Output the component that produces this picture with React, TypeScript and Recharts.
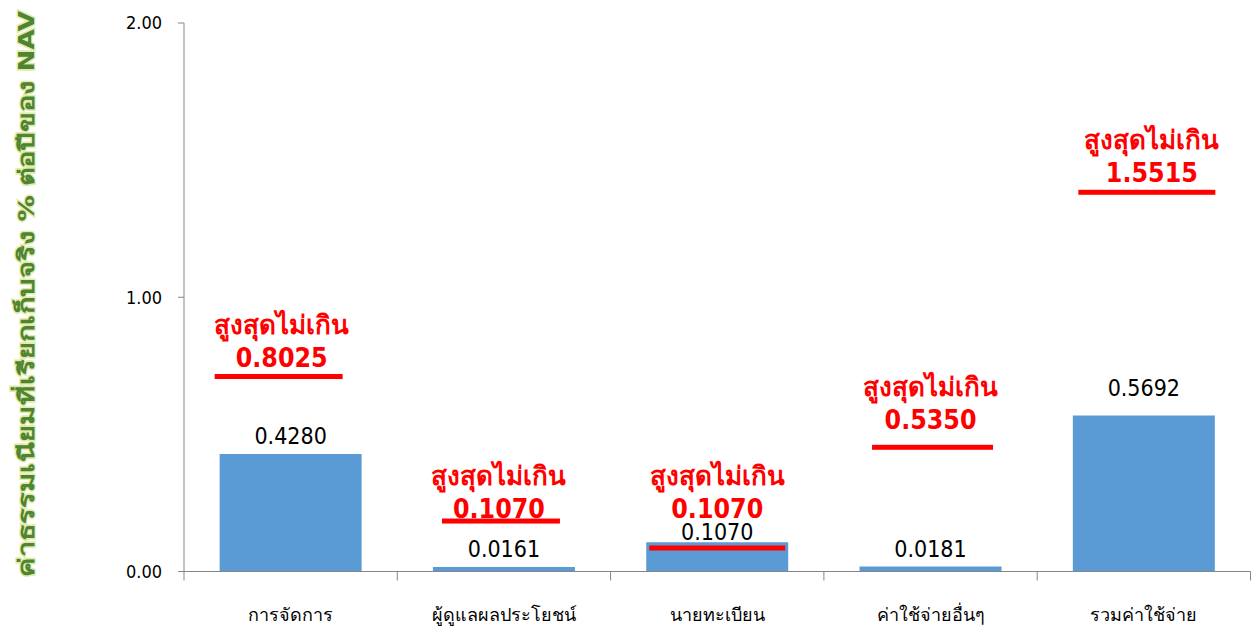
import React from 'react';
import { ComposedChart, Bar, XAxis, YAxis, Scatter, LabelList } from 'recharts';

const categories = ['การจัดการ', 'ผู้ดูแลผลประโยชน์', 'นายทะเบียน', 'ค่าใช้จ่ายอื่นๆ', 'รวมค่าใช้จ่าย'];
const actualFees = [0.428, 0.0161, 0.107, 0.0181, 0.5692];
const maxFees = [0.8025, 0.107, 0.107, 0.535, 1.5515];
const limitLineAt = [0.711, 0.184, 0.0857, 0.4529, 1.3827];
const limitLabelAt = [0.782, 0.2315, 0.2315, 0.556, 1.4556];
const yTicks = [0, 1, 2];
const limitTitle = 'สูงสุดไม่เกิน';
const yAxisTitle = 'ค่าธรรมเนียมที่เรียกเก็บจริง % ต่อปีของ NAV';

// styling (pixel offsets / sizes) kept apart from the data
const lineDx = [-12, -3, 0, 2, 3];
const lineW = [128, 118, 136, 121, 137];
const labelDx = [-9, -5, 0, 0, 8];
const valueGap = [18, 18, 10, 18, 27];

const data = categories.map((name, i) => ({
  name,
  idx: i,
  actual: actualFees[i],
  max: maxFees[i],
  lineAt: limitLineAt[i],
  labelAt: limitLabelAt[i],
}));

const NUM_FONT = "'DejaVu Sans Condensed', 'DejaVu Sans', Tahoma, sans-serif";
const AXIS_COLOR = '#868686';

const XTick = (props: any) => {
  const { x, y, payload, index } = props;
  const half = payload && payload.offset ? payload.offset : 106.6;
  return (
    <g>
      <line x1={x - half} x2={x - half} y1={y} y2={y + 9} stroke={AXIS_COLOR} strokeWidth={1} />
      {index === categories.length - 1 && (
        <line x1={x + half} x2={x + half} y1={y} y2={y + 9} stroke={AXIS_COLOR} strokeWidth={1} />
      )}
      <text x={x} y={y + 43} textAnchor="middle" dominantBaseline="central" fill="#000" fontSize={18} fontFamily={NUM_FONT}>
        {payload.value}
      </text>
    </g>
  );
};

const LimitLine = (props: any) => {
  const { cx, cy, payload } = props;
  const i = payload.idx;
  const w = lineW[i];
  const c = cx + lineDx[i];
  return <rect x={c - w / 2} y={cy - 2.5} width={w} height={5} fill="#FF0000" />;
};

const LimitLabel = (props: any) => {
  const { cx, cy, payload } = props;
  const i = payload.idx;
  const c = cx + labelDx[i];
  return (
    <g>
      <text x={c} y={cy - 32} textAnchor="middle" dominantBaseline="central" fill="#FF0000" fontWeight="bold" fontSize={26} fontFamily={NUM_FONT}>
        {limitTitle}
      </text>
      <text x={c} y={cy} textAnchor="middle" dominantBaseline="central" fill="#FF0000" fontWeight="bold" fontSize={26.5} fontFamily={NUM_FONT}>
        {payload.max.toFixed(4)}
      </text>
    </g>
  );
};

const BarValue = (props: any) => {
  const { x, y, width, index, value } = props;
  return (
    <text x={x + width / 2} y={y - valueGap[index]} textAnchor="middle" dominantBaseline="central" fill="#000" fontSize={23} fontFamily={NUM_FONT}>
      {Number(value).toFixed(4)}
    </text>
  );
};

const YTitle = () => (
  <text
    x={26}
    y={294}
    transform="rotate(-90 26 294)"
    textAnchor="middle"
    dominantBaseline="central"
    fill="#4f8430"
    stroke="#e2ebad"
    strokeWidth={2.5}
    paintOrder="stroke"
    fontWeight="bold"
    fontSize={22}
    fontFamily={NUM_FONT}
    textLength={566}
    lengthAdjust="spacingAndGlyphs"
  >
    {yAxisTitle}
  </text>
);

export default function App() {
  return (
    <div style={{ position: 'absolute', left: 0, top: 0 }}>
      <ComposedChart width={1253} height={628} data={data} margin={{ top: 23, right: 2.5, left: 0, bottom: 0 }} barCategoryGap="16.7%">
        <XAxis
          dataKey="name"
          height={56.5}
          tickSize={0}
          tickMargin={0}
          tickLine={false}
          axisLine={{ stroke: AXIS_COLOR }}
          tick={<XTick />}
          interval={0}
        />
        <YAxis
          width={184}
          domain={[0, 2]}
          ticks={yTicks}
          tickFormatter={(v: number) => v.toFixed(2)}
          tickSize={6}
          tickMargin={16}
          axisLine={{ stroke: AXIS_COLOR }}
          tickLine={{ stroke: AXIS_COLOR }}
          tick={{ fill: '#000', fontSize: 18, fontFamily: NUM_FONT }}
          label={{ content: () => <YTitle /> }}
        />
        <Bar dataKey="actual" fill="#5B9BD5" isAnimationActive={false}>
          <LabelList dataKey="actual" content={<BarValue />} />
        </Bar>
        <Scatter dataKey="lineAt" shape={<LimitLine />} isAnimationActive={false} />
        <Scatter dataKey="labelAt" shape={<LimitLabel />} isAnimationActive={false} />
      </ComposedChart>
    </div>
  );
}
